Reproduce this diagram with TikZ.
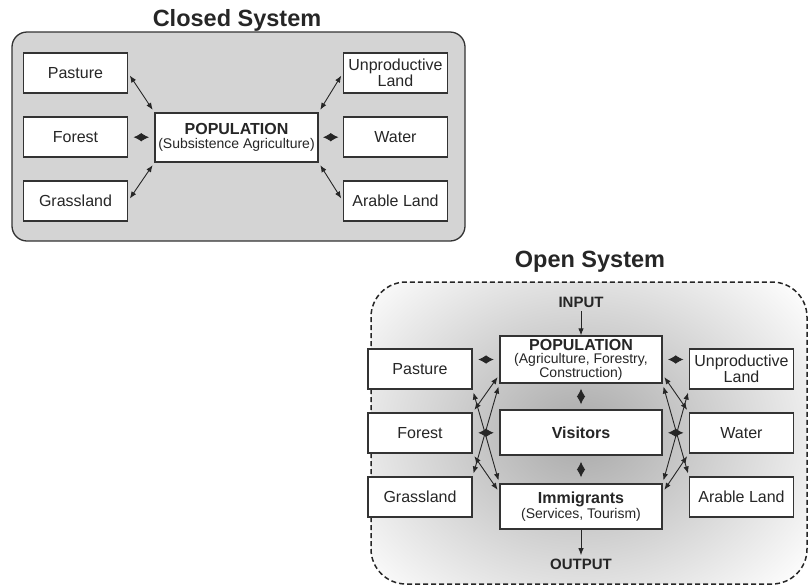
\documentclass[tikz,border=0pt]{standalone}
\usepackage{fontspec}
\setmainfont{Liberation Sans}
\usetikzlibrary{arrows.meta}

\begin{document}
\begin{tikzpicture}[x=1pt, y=-1pt,
    land/.style={draw=black!80, line width=1.3pt, fill=white, minimum width=104pt, minimum height=40pt,
        inner sep=0pt, align=center, text=black!85, font=\fontsize{16}{16.5}\selectfont},
    people/.style={land, minimum width=162pt, minimum height=46pt, font=\fontsize{14}{13}\selectfont},
    heading/.style={text=black!85, font=\fontsize{23.5}{25}\selectfont\bfseries},
    io/.style={text=black!85, font=\fontsize{15}{16}\selectfont\bfseries},
    link/.style={{Latex[length=7pt,width=5.5pt]}-{Latex[length=7pt,width=5.5pt]}, line width=0.9pt,
        draw=black!85, shorten <=3pt, shorten >=3pt},
    pair/.style={{Latex[length=8pt,width=8.5pt]}-{Latex[length=8pt,width=8.5pt]}, line width=0.9pt,
        draw=black!85, shorten <=#1, shorten >=#1},
    pair/.default=5pt,
    flow/.style={-{Latex[length=7pt,width=5.5pt]}, line width=0.9pt, draw=black!85}
]
\useasboundingbox (0,0) rectangle (811,587);

% Closed system
\node[heading] (closedtitle) at (237,20) {Closed System};
\draw[draw=black!80, line width=1.3pt, fill=black!17, rounded corners=15pt] (12,32) rectangle (465,241);

\node[land] (pasture) at (75.5,73) {Pasture};
\node[land] (forest) at (75.5,137) {Forest};
\node[land] (grassland) at (75.5,201) {Grassland};
\node[land] (unprod) at (395.5,73) {Unproductive\\Land};
\node[land] (water) at (395.5,137) {Water};
\node[land] (arable) at (395.5,201) {Arable Land};
\node[people, minimum width=163pt, minimum height=49pt] (pop) at (236.5,137.5)
    {{\fontsize{16}{16}\selectfont\bfseries POPULATION}\\[1pt](Subsistence Agriculture)};

\draw[link] (pasture.east) -- (pop.north west);
\draw[pair=5.4pt] (forest) -- (pop);
\draw[link] (grassland.east) -- (pop.south west);
\draw[link] (unprod.west) -- (pop.north east);
\draw[pair=4.4pt] (water) -- (pop);
\draw[link] (arable.west) -- (pop.south east);

% Open system
\node[heading] (opentitle) at (590,262) {Open System};
\begin{scope}
    \clip[rounded corners=35pt] (371,282) rectangle (807,584);
    \shade[inner color=black!34, outer color=white] (291,203) rectangle (871,663);
\end{scope}
\draw[draw=black!85, line width=1.5pt, dash pattern=on 5pt off 3pt, rounded corners=35pt]
    (371,282) rectangle (807,584);

\node[io] (input) at (581,302) {INPUT};
\node[people, minimum height=47pt] (opop) at (581,359.5)
    {{\fontsize{16}{16}\selectfont\bfseries POPULATION}\\(Agriculture, Forestry,\\Construction)};
\node[people, minimum height=45pt] (ovisitors) at (581,432.5)
    {{\fontsize{16}{16}\selectfont\bfseries Visitors}};
\node[people, minimum height=45pt] (oimm) at (581,506.5)
    {{\fontsize{16}{16}\selectfont\bfseries Immigrants}\\[1pt](Services, Tourism)};
\node[io] (output) at (581,564) {OUTPUT};

\node[land] (opasture) at (420,369) {Pasture};
\node[land] (oforest) at (420,433) {Forest};
\node[land] (ograss) at (420,497) {Grassland};
\node[land] (ounprod) at (741.5,369) {Unproductive\\Land};
\node[land] (owater) at (741.5,433) {Water};
\node[land] (oarable) at (741.5,497) {Arable Land};

\draw[flow] (input) -- (opop);
\draw[flow] (oimm) -- (output);
\draw[pair=5.1pt] (opop) -- (ovisitors);
\draw[pair=6.1pt] (ovisitors) -- (oimm);

% left side links
\draw[pair=5.6pt] (opasture.east |- opop.west) -- (opop.west);
\draw[pair=5.6pt] (oforest) -- (ovisitors);
\draw[link] (opasture.south east) -- (oimm.north west);
\draw[link] (ograss.north east) -- (opop.south west);
\draw[link] (oforest.north east) -- ([yshift=9pt]opop.south west);
\draw[link] (oforest.south east) -- ([yshift=-9pt]oimm.north west);

% right side links
\draw[pair=5.4pt] (ounprod.west |- opop.east) -- (opop.east);
\draw[pair=5.4pt] (owater) -- (ovisitors);
\draw[link] (ounprod.south west) -- (oimm.north east);
\draw[link] (oarable.north west) -- (opop.south east);
\draw[link] (owater.north west) -- ([yshift=9pt]opop.south east);
\draw[link] (owater.south west) -- ([yshift=-9pt]oimm.north east);
\end{tikzpicture}
\end{document}
